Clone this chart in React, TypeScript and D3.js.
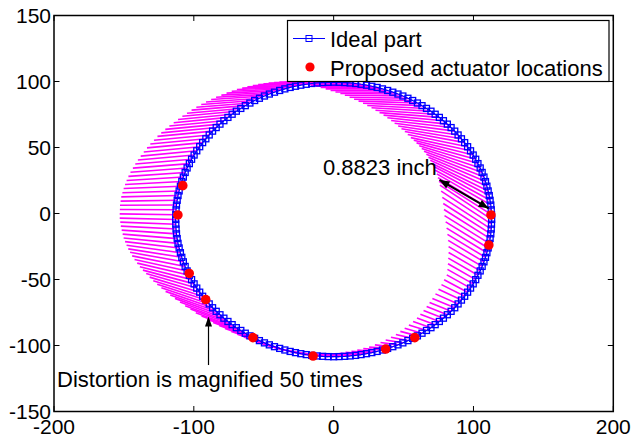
import React from 'react';
import * as d3 from 'd3';

const xTicks = [-200, -100, 0, 100, 200];
const yTicks = [-150, -100, -50, 0, 50, 100, 150];

// Ideal part outline (data units)
const idealX = [
  113.0,112.9,112.7,112.4,111.9,111.3,110.5,109.6,108.6,107.5,
  106.2,104.8,103.2,101.6,99.8,97.9,95.8,93.7,91.4,89.0,
  86.6,84.0,81.3,78.5,75.6,72.6,69.6,66.4,63.2,59.9,
  56.5,53.1,49.5,46.0,42.3,38.6,34.9,31.1,27.3,23.5,
  19.6,15.7,11.8,7.9,3.9,0,-3.9,-7.9,-11.8,-15.7,
  -19.6,-23.5,-27.3,-31.1,-34.9,-38.6,-42.3,-46.0,-49.5,-53.1,
  -56.5,-59.9,-63.2,-66.4,-69.6,-72.6,-75.6,-78.5,-81.3,-84.0,
  -86.6,-89.0,-91.4,-93.7,-95.8,-97.9,-99.8,-101.6,-103.2,-104.8,
  -106.2,-107.5,-108.6,-109.6,-110.5,-111.3,-111.9,-112.4,-112.7,-112.9,
  -113.0,-112.9,-112.7,-112.4,-111.9,-111.3,-110.5,-109.6,-108.6,-107.5,
  -106.2,-104.8,-103.2,-101.6,-99.8,-97.9,-95.8,-93.7,-91.4,-89.0,
  -86.6,-84.0,-81.3,-78.5,-75.6,-72.6,-69.6,-66.4,-63.2,-59.9,
  -56.5,-53.1,-49.5,-46.0,-42.3,-38.6,-34.9,-31.1,-27.3,-23.5,
  -19.6,-15.7,-11.8,-7.9,-3.9,0,3.9,7.9,11.8,15.7,
  19.6,23.5,27.3,31.1,34.9,38.6,42.3,46.0,49.5,53.1,
  56.5,59.9,63.2,66.4,69.6,72.6,75.6,78.5,81.3,84.0,
  86.6,89.0,91.4,93.7,95.8,97.9,99.8,101.6,103.2,104.8,
  106.2,107.5,108.6,109.6,110.5,111.3,111.9,112.4,112.7,112.9,
];
const idealY = [
  -4.5,-0.9,2.8,6.4,10.0,13.6,17.1,20.7,24.2,27.6,
  31.1,34.5,37.8,41.1,44.3,47.5,50.6,53.7,56.6,59.5,
  62.4,65.1,67.7,70.3,72.8,75.2,77.5,79.6,81.7,83.7,
  85.6,87.3,89.0,90.5,91.9,93.2,94.4,95.5,96.4,97.2,
  97.9,98.5,98.9,99.2,99.4,99.5,99.4,99.2,98.9,98.5,
  97.9,97.2,96.4,95.5,94.4,93.2,91.9,90.5,89.0,87.3,
  85.6,83.7,81.7,79.6,77.5,75.2,72.8,70.3,67.7,65.1,
  62.4,59.5,56.6,53.7,50.6,47.5,44.3,41.1,37.8,34.5,
  31.1,27.6,24.2,20.7,17.1,13.6,10.0,6.4,2.8,-0.9,
  -4.5,-8.1,-11.8,-15.4,-19.0,-22.6,-26.1,-29.7,-33.2,-36.6,
  -40.1,-43.5,-46.8,-50.1,-53.3,-56.5,-59.6,-62.7,-65.6,-68.5,
  -71.4,-74.1,-76.7,-79.3,-81.8,-84.2,-86.5,-88.6,-90.7,-92.7,
  -94.6,-96.3,-98.0,-99.5,-100.9,-102.2,-103.4,-104.5,-105.4,-106.2,
  -106.9,-107.5,-107.9,-108.2,-108.4,-108.5,-108.4,-108.2,-107.9,-107.5,
  -106.9,-106.2,-105.4,-104.5,-103.4,-102.2,-100.9,-99.5,-98.0,-96.3,
  -94.6,-92.7,-90.7,-88.6,-86.5,-84.2,-81.8,-79.3,-76.7,-74.1,
  -71.4,-68.5,-65.6,-62.7,-59.6,-56.5,-53.3,-50.1,-46.8,-43.5,
  -40.1,-36.6,-33.2,-29.7,-26.1,-22.6,-19.0,-15.4,-11.8,-8.1,
];

// Distortion (magnified 50 times) at each ideal point
const distX = [
  -37.0,-37.5,-38.1,-38.6,-39.2,-39.7,-40.1,-40.5,-40.8,-41.2,
  -41.6,-41.8,-42.0,-42.3,-42.5,-42.7,-42.8,-42.8,-42.9,-42.9,
  -43.0,-42.9,-42.9,-42.8,-42.8,-42.7,-42.5,-42.4,-42.2,-42.1,
  -41.9,-41.7,-41.5,-41.2,-41.0,-40.8,-40.6,-40.4,-40.1,-39.9,
  -39.7,-39.5,-39.3,-39.2,-39.0,-38.8,-38.7,-38.6,-38.4,-38.3,
  -38.2,-38.2,-38.1,-38.1,-38.0,-38.0,-38.0,-38.1,-38.1,-38.2,
  -38.2,-38.3,-38.4,-38.5,-38.6,-38.7,-38.8,-39.0,-39.1,-39.3,
  -39.4,-39.5,-39.7,-39.8,-40.0,-40.1,-40.2,-40.3,-40.4,-40.5,
  -40.6,-40.6,-40.6,-40.6,-40.6,-40.6,-40.5,-40.4,-40.2,-40.1,
  -40.0,-39.7,-39.5,-39.2,-39.0,-38.9,-38.7,-38.5,-38.3,-38.1,
  -37.9,-37.6,-37.3,-37.0,-36.6,-36.2,-35.8,-35.3,-34.8,-34.2,
  -33.6,-32.9,-32.2,-31.4,-30.6,-29.8,-29.0,-28.1,-27.2,-26.3,
  -25.4,-24.6,-23.7,-22.9,-22.0,-21.2,-20.5,-19.8,-19.1,-18.5,
  -18.0,-17.6,-17.3,-16.9,-16.6,-16.2,-16.0,-15.9,-15.7,-15.5,
  -15.3,-15.0,-14.6,-14.2,-13.7,-13.2,-12.8,-12.5,-12.3,-12.1,
  -12.0,-12.2,-12.4,-12.6,-12.8,-13.0,-13.6,-14.2,-14.8,-15.4,
  -16.0,-16.2,-16.4,-16.6,-16.8,-17.0,-18.4,-19.8,-21.2,-22.6,
  -24.0,-25.6,-27.2,-28.8,-30.4,-32.0,-33.0,-34.0,-35.0,-36.0,
];
const distY = [
  26.0,25.2,24.4,23.6,22.8,22.0,20.8,19.6,18.4,17.2,
  16.0,14.8,13.6,12.4,11.2,10.0,9.2,8.4,7.6,6.8,
  6.0,5.4,4.8,4.2,3.6,3.0,2.6,2.2,1.8,1.4,
  1.0,0.8,0.6,0.4,0.2,0,0,0,0,0,
  0,0,0,0,0,0,-0.2,-0.4,-0.6,-0.8,
  -1.0,-1.2,-1.4,-1.6,-1.8,-2.0,-2.2,-2.4,-2.6,-2.8,
  -3.0,-3.2,-3.4,-3.6,-3.8,-4.0,-4.0,-4.0,-4.0,-4.0,
  -4.0,-4.0,-4.0,-4.0,-4.0,-4.0,-3.8,-3.6,-3.4,-3.2,
  -3.0,-2.6,-2.2,-1.8,-1.4,-1.0,-0.6,-0.2,0.2,0.6,
  1.0,1.6,2.2,2.8,3.4,4.0,4.8,5.6,6.4,7.2,
  8.0,8.6,9.2,9.8,10.4,11.0,11.4,11.8,12.0,12.2,
  12.4,12.4,12.4,12.2,12.0,11.8,11.4,11.0,10.6,10.2,
  9.8,9.2,8.6,8.0,7.4,6.8,6.2,5.6,5.0,4.5,
  4.0,3.6,3.2,2.8,2.4,2.0,1.8,1.6,1.4,1.2,
  1.0,1.0,1.0,1.0,1.0,1.0,1.4,1.8,2.2,2.6,
  3.0,3.4,3.8,4.2,4.6,5.0,5.4,5.8,6.2,6.6,
  7.0,7.6,8.2,8.8,9.4,10.0,11.0,12.0,13.0,14.0,
  15.0,16.2,17.4,18.6,19.8,21.0,22.0,23.0,24.0,25.0,
];

// Proposed actuator locations
const actuatorX = [-107.9, -111.4, -103.3, -91.5, -57.7, -14.7, 37.2, 58.0, 111.0, 112.5];
const actuatorY = [21.1, -1.1, -45.4, -65.2, -94.0, -108.0, -102.7, -94.0, -23.9, -1.1];

const legendLabels = ['Ideal part', 'Proposed actuator locations'];
const maxLabel = '0.8823 inch';
const noteLabel = 'Distortion is magnified 50 times';
// annotation arrows, data units
const maxArrowX = [75.7, 110.8];
const maxArrowY = [25.4, 3.9];
const noteArrowX = [-89.5, -89.5];
const noteArrowY = [-114.8, -78.0];

const FONT = "'Liberation Sans', Arial, Helvetica, sans-serif";

function head(x1: number, y1: number, x2: number, y2: number, len: number, half: number) {
  const dx = x2 - x1, dy = y2 - y1;
  const L = Math.hypot(dx, dy);
  const ux = dx / L, uy = dy / L;
  const bx = x2 - ux * len, by = y2 - uy * len;
  return `${x2},${y2} ${bx - uy * half},${by + ux * half} ${bx + uy * half},${by - ux * half}`;
}

export default function App() {
  const W = 633, H = 438;
  const L = 54, R = 613.3, T = 15.5, B = 411.5;
  const x = d3.scaleLinear().domain([-200, 200]).range([L, R]);
  const y = d3.scaleLinear().domain([-150, 150]).range([B, T]);
  const idx = d3.range(idealX.length);
  const ring = d3.line<number>().x(i => x(idealX[i])).y(i => y(idealY[i])).curve(d3.curveLinearClosed)(idx) || '';
  const sq = 6;
  const tickLen = 5.5;

  const ax1 = x(maxArrowX[0]), ay1 = y(maxArrowY[0]), ax2 = x(maxArrowX[1]), ay2 = y(maxArrowY[1]);
  const nx1 = x(noteArrowX[0]), ny1 = y(noteArrowY[0]), nx2 = x(noteArrowX[1]), ny2 = y(noteArrowY[1]);

  return (
    <svg width={W} height={H} viewBox={`0 0 ${W} ${H}`}
      style={{ position: 'fixed', left: 0, top: 0, background: '#fff', fontFamily: FONT }}>
      <rect x={0} y={0} width={W} height={H} fill="#fff" />
      {/* distortion vectors */}
      <g stroke="#ff00ff" strokeWidth={1.6}>
        {idx.map(i => (
          <line key={i} x1={x(idealX[i])} y1={y(idealY[i])}
            x2={x(idealX[i] + distX[i])} y2={y(idealY[i] + distY[i])} />
        ))}
      </g>
      {/* ideal part */}
      <path d={ring} fill="none" stroke="#0000ff" strokeWidth={1.2} />
      <g fill="none" stroke="#0000ff" strokeWidth={1.3}>
        {idx.map(i => (
          <rect key={i} x={x(idealX[i]) - sq / 2} y={y(idealY[i]) - sq / 2} width={sq} height={sq} />
        ))}
      </g>
      {/* actuators */}
      <g fill="#ff0000">
        {actuatorX.map((v, i) => (
          <circle key={i} cx={x(v)} cy={y(actuatorY[i])} r={4.8} />
        ))}
      </g>
      {/* max distortion arrow */}
      <line x1={ax1} y1={ay1} x2={ax2} y2={ay2} stroke="#000" strokeWidth={2} />
      <polygon points={head(ax1, ay1, ax2, ay2, 10, 4)} fill="#000" />
      <polygon points={head(ax2, ay2, ax1, ay1, 10, 4)} fill="#000" />
      <text x={323} y={175} fontSize={22} fill="#000">{maxLabel}</text>
      {/* note arrow */}
      <line x1={nx1} y1={ny1} x2={nx2} y2={ny2 + 4} stroke="#000" strokeWidth={1.2} />
      <polygon points={head(nx1, ny1, nx2, ny2, 10, 3.5)} fill="#000" />
      <text x={57} y={387} fontSize={22} fill="#000">{noteLabel}</text>

      {/* axes box */}
      <rect x={L} y={T} width={R - L} height={B - T} fill="none" stroke="#000" strokeWidth={1.5} />
      <g stroke="#000" strokeWidth={1}>
        {xTicks.map(t => (
          <g key={'x' + t}>
            <line x1={x(t)} x2={x(t)} y1={B} y2={B - tickLen} />
            <line x1={x(t)} x2={x(t)} y1={T} y2={T + tickLen} />
          </g>
        ))}
        {yTicks.map(t => (
          <g key={'y' + t}>
            <line x1={L} x2={L + tickLen} y1={y(t)} y2={y(t)} />
            <line x1={R} x2={R - tickLen} y1={y(t)} y2={y(t)} />
          </g>
        ))}
      </g>
      <g fontSize={21} fill="#000">
        {xTicks.map(t => (
          <text key={'xl' + t} x={x(t)} y={434} textAnchor="middle">{t}</text>
        ))}
        {yTicks.map(t => (
          <text key={'yl' + t} x={51} y={y(t) + 7.5} textAnchor="end">{t}</text>
        ))}
      </g>

      {/* legend */}
      <rect x={287.5} y={20.5} width={321.5} height={61} fill="#fff" stroke="#000" strokeWidth={1.2} />
      <line x1={293} x2={325} y1={38.5} y2={38.5} stroke="#0000ff" strokeWidth={1} />
      <rect x={309 - sq / 2} y={38.5 - sq / 2} width={sq} height={sq} fill="none" stroke="#0000ff" strokeWidth={1} />
      <text x={330} y={47} fontSize={22} fill="#000">{legendLabels[0]}</text>
      <circle cx={310} cy={67} r={4.6} fill="#ff0000" />
      <text x={330} y={75.5} fontSize={22} fill="#000">{legendLabels[1]}</text>
    </svg>
  );
}
